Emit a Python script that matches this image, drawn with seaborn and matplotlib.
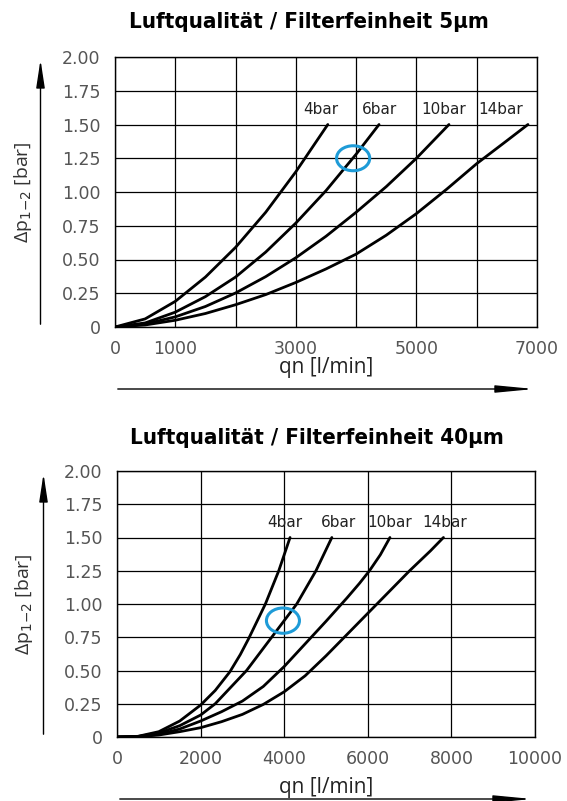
import numpy as np
import pandas as pd
import matplotlib
matplotlib.use("Agg")
import matplotlib.pyplot as plt
import seaborn as sns
from matplotlib.patches import Ellipse, FancyArrowPatch, ArrowStyle

# ---------------- data ----------------
pressures = ["4bar", "6bar", "10bar", "14bar"]

# Filterfeinheit 5 µm
x5_4 = [0, 500, 1000, 1500, 2000, 2500, 3000, 3530]
y5_4 = [0, 0.06, 0.19, 0.37, 0.59, 0.85, 1.15, 1.50]
x5_6 = [0, 500, 1000, 1500, 2000, 2500, 3000, 3500, 4000, 4380]
y5_6 = [0, 0.03, 0.11, 0.225, 0.37, 0.555, 0.77, 1.01, 1.28, 1.50]
x5_10 = [0, 500, 1000, 1500, 2000, 2500, 3000, 3500, 4000, 4500, 5000, 5540]
y5_10 = [0, 0.022, 0.075, 0.152, 0.252, 0.373, 0.513, 0.672, 0.85, 1.04, 1.25, 1.50]
x5_14 = [0, 500, 1000, 1500, 2000, 2500, 3000, 3500, 4000, 4500, 5000, 5500, 6000, 6500, 6850]
y5_14 = [0, 0.015, 0.05, 0.10, 0.165, 0.24, 0.33, 0.43, 0.54, 0.68, 0.84, 1.02, 1.21, 1.38, 1.50]

# Filterfeinheit 40 µm
x40_4 = [0, 500, 1000, 1500, 2000, 2350, 2700, 2950, 3150, 3550, 3870, 4140]
y40_4 = [0, 0.005, 0.04, 0.12, 0.24, 0.35, 0.49, 0.62, 0.74, 1.00, 1.25, 1.50]
x40_6 = [0, 500, 1000, 1500, 2000, 2350, 3100, 3700, 4300, 4760, 5140]
y40_6 = [0, 0.004, 0.03, 0.085, 0.165, 0.25, 0.50, 0.75, 1.00, 1.25, 1.50]
x40_10 = [0, 500, 1000, 1500, 2000, 2500, 3000, 3500, 4000, 4500, 5000, 5500, 5800, 6040, 6300, 6530]
y40_10 = [0, 0.003, 0.02, 0.06, 0.12, 0.19, 0.27, 0.38, 0.53, 0.70, 0.87, 1.045, 1.155, 1.25, 1.37, 1.50]
x40_14 = [0, 500, 1000, 1500, 2000, 2500, 3000, 3500, 4000, 4500, 5000, 5500, 6000, 6500, 7000, 7500, 7810]
y40_14 = [0, 0.002, 0.015, 0.04, 0.07, 0.115, 0.17, 0.245, 0.34, 0.46, 0.61, 0.77, 0.93, 1.09, 1.25, 1.40, 1.50]

# curve label positions (x of label centre)
lab5_x = [3420, 4380, 5455, 6400]
lab40_x = [4020, 5290, 6530, 7850]
lab_y = 1.61

# highlighted points
mark5 = (3950, 1.25)
mark40 = (3970, 0.875)

# ticks
yticks = [0, 0.25, 0.50, 0.75, 1.00, 1.25, 1.50, 1.75, 2.00]
ytick_labels = ["0", "0.25", "0.50", "0.75", "1.00", "1.25", "1.50", "1.75", "2.00"]
xticks5 = [0, 1000, 2000, 3000, 4000, 5000, 6000, 7000]
xtick5_labels = ["0", "1000", "", "3000", "", "5000", "", "7000"]
xticks40 = [0, 2000, 4000, 6000, 8000, 10000]
xtick40_labels = ["0", "2000", "4000", "6000", "8000", "10000"]

title5 = "Luftqualität / Filterfeinheit 5µm"
title40 = "Luftqualität / Filterfeinheit 40µm"
xlabel = "qn [l/min]"
ylabel = r"Δp$_{1\mathsf{-}2}$ [bar]"

# ---------------- figure ----------------
sns.set_style("white")
W, H = 567, 801
fig = plt.figure(figsize=(W / 100, H / 100), dpi=100)
fig.patch.set_facecolor("white")

def fx(px):
    return px / W

def fy(py):
    return 1 - py / H

def long_df(xs, ys):
    rows = []
    for p, xv, yv in zip(pressures, xs, ys):
        for a, b in zip(xv, yv):
            rows.append({"qn": a, "dp": b, "p": p})
    return pd.DataFrame(rows)

TICK_FONT = "DejaVu Sans"
TICK_COLOR = "#555555"

def make_panel(left, top, right, bottom, xs, ys, xmax, xticks, xticklabels,
               labx, mark, mark_w, mark_h, title, title_xy, ylab_x,
               varrow_x, harrow_y, xlab_y):
    ax = fig.add_axes([fx(left), fy(bottom), fx(right) - fx(left), fy(top) - fy(bottom)])
    df = long_df(xs, ys)
    sns.lineplot(data=df, x="qn", y="dp", hue="p", palette=["black"] * 4,
                 sort=False, estimator=None, legend=False, lw=2.0, ax=ax)
    for ln in ax.get_lines():
        ln.set_solid_joinstyle("round")
    ax.set_xlim(0, xmax)
    ax.set_ylim(0, 2.0)
    ax.set_xticks(xticks)
    ax.set_xticklabels(xticklabels)
    ax.set_yticks(yticks)
    ax.set_yticklabels(ytick_labels)
    ax.grid(True, color="black", lw=0.9)
    ax.set_axisbelow(True)
    for s in ax.spines.values():
        s.set_color("black")
        s.set_linewidth(1.0)
    ax.tick_params(axis="y", direction="out", length=8.5, width=0.9, color="black",
                   pad=2, labelsize=12.5, labelcolor=TICK_COLOR)
    ax.tick_params(axis="x", direction="out", length=6, width=0.9, color="black",
                   pad=3.5, labelsize=12.5, labelcolor=TICK_COLOR)
    for lab in ax.get_xticklabels() + ax.get_yticklabels():
        lab.set_fontfamily(TICK_FONT)
    ax.set_xlabel("")
    ax.set_ylabel("")
    for p, lx in zip(pressures, labx):
        ax.text(lx, lab_y, p, ha="center", va="center", fontsize=11,
                color="#222222", family=TICK_FONT)
    ax.add_patch(Ellipse(mark, width=mark_w, height=mark_h, fill=False,
                         edgecolor="#1E9BD7", lw=2.2, zorder=5))
    # titles and labels
    fig.text(fx(title_xy[0]), fy(title_xy[1]), title, ha="center", va="center",
             fontsize=16, fontweight="bold", fontstretch="condensed",
             family="DejaVu Sans", color="black")
    fig.text(fx((left + right) / 2), fy(xlab_y), xlabel, ha="center", va="center",
             fontsize=15, family="Open Sans", color="#222222")
    fig.text(fx(ylab_x), fy((top + bottom) / 2), ylabel, ha="center", va="center",
             rotation=90, fontsize=14, family="Open Sans", color="#333333")
    # arrows
    va = FancyArrowPatch((fx(varrow_x), fy(bottom)), (fx(varrow_x), fy(top)),
                         transform=fig.transFigure,
                         arrowstyle=ArrowStyle("-|>", head_length=17, head_width=2.6),
                         mutation_scale=1, lw=1.0, color="black")
    fig.add_artist(va)
    ha_ = FancyArrowPatch((fx(left), fy(harrow_y)), (fx(right), fy(harrow_y)),
                          transform=fig.transFigure,
                          arrowstyle=ArrowStyle("-|>", head_length=23, head_width=2.2),
                          mutation_scale=1, lw=1.0, color="black")
    fig.add_artist(ha_)
    return ax

make_panel(115, 57, 537, 327,
           [x5_4, x5_6, x5_10, x5_14], [y5_4, y5_6, y5_10, y5_14], 7000,
           xticks5, xtick5_labels, lab5_x, mark5, 550, 0.185,
           title5, (309, 22), 23, 40.5, 389, 368)

make_panel(117, 471, 535, 737,
           [x40_4, x40_6, x40_10, x40_14], [y40_4, y40_6, y40_10, y40_14], 10000,
           xticks40, xtick40_labels, lab40_x, mark40, 790, 0.19,
           title40, (317, 438), 24, 43.5, 799, 787)

fig.savefig("out.png", dpi=100, facecolor="white")
